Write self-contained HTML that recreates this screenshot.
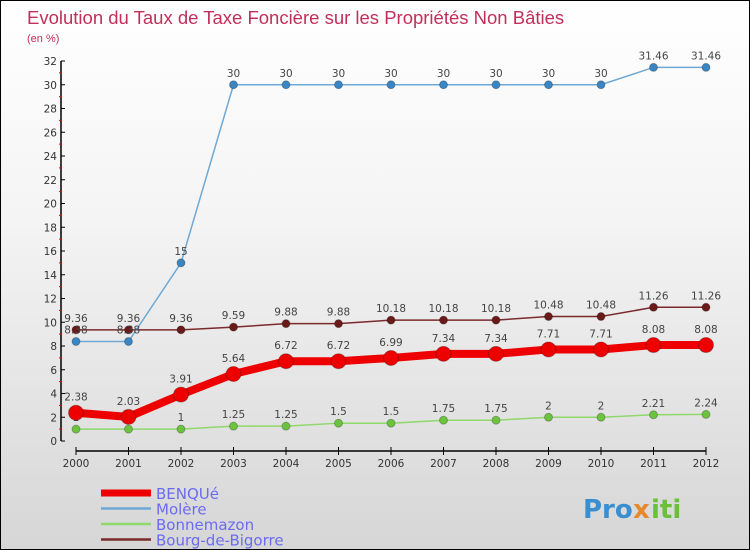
<!DOCTYPE html>
<html><head><meta charset="utf-8"><style>
body{margin:0}
#c{width:748px;height:548px;border:1px solid #000;background:linear-gradient(#fff 0%,#f4f4f4 40%,#d6d6d6 100%);position:relative;overflow:hidden;font-family:"DejaVu Sans","Liberation Sans",sans-serif}
</style></head><body>
<div id="c">
<svg id="s" width="748" height="548" style="position:absolute;left:0;top:0">
<text x="26" y="23" font-size="18.5" fill="#c0305a" font-family="Liberation Sans">Evolution du Taux de Taxe Foncière sur les Propriétés Non Bâties</text>
<text x="26" y="41" font-size="11" fill="#c0305a" font-family="Liberation Sans">(en %)</text>
<g id="ax"></g><g id="ser"></g><g id="leg"></g>
<g font-family="DejaVu Sans" font-weight="bold" font-size="26">
<text x="582" y="517" fill="#3a8fd0">Pro</text><text x="632" y="517" fill="#e8882a">x</text><text x="650" y="517" fill="#6cbf3a">iti</text></g>
</svg></div>
<script>
const years=[2000,2001,2002,2003,2004,2005,2006,2007,2008,2009,2010,2011,2012];
const benoque=[2.38,2.03,3.91,5.64,6.72,6.72,6.99,7.34,7.34,7.71,7.71,8.08,8.08];
const molere=[8.38,8.38,15,30,30,30,30,30,30,30,30,31.46,31.46];
const bonnemazon=[1,1,1,1.25,1.25,1.5,1.5,1.75,1.75,2,2,2.21,2.24];
const bourg=[9.36,9.36,9.36,9.59,9.88,9.88,10.18,10.18,10.18,10.48,10.48,11.26,11.26];
const yTicks=[0,2,4,6,8,10,12,14,16,18,20,22,24,26,28,30,32];
const NS="http://www.w3.org/2000/svg";
const X=i=>75+i*52.5, Y=v=>440-v*11.875;
function mk(p,t,a){const e=document.createElementNS(NS,t);for(const k in a)e.setAttribute(k,a[k]);p.appendChild(e);return e;}
const ax=document.getElementById('ax');
let l=mk(ax,'line',{x1:60,y1:Y(32),x2:60,y2:Y(0),stroke:'#000','stroke-width':1.5});


yTicks.forEach(v=>{
 mk(ax,'line',{x1:60,y1:Y(v),x2:64,y2:Y(v),stroke:'#000'});
 if(v<32)mk(ax,'line',{x1:58,y1:Y(v+1),x2:61,y2:Y(v+1),stroke:'#e00'});
 const t=mk(ax,'text',{x:56,y:Y(v)+4,'font-size':10.5,fill:'#333','text-anchor':'end'});t.textContent=v;
 
 
});
l=mk(ax,'line',{x1:75,y1:450,x2:705,y2:450,stroke:'#000','stroke-width':1.5});


years.forEach((y,i)=>{
 mk(ax,'line',{x1:X(i),y1:446,x2:X(i),y2:454,stroke:'#000'});
 const t=mk(ax,'text',{x:X(i),y:466,'font-size':10.5,fill:'#333','text-anchor':'middle'});t.textContent=y;
 
 
});
const series=[
 {d:bourg,c:'#7a2a2a',f:'#6b1a1a',w:1.5,r:4,n:'bourg-de-bigorre',lab:'Bourg-de-Bigorre'},
 {d:molere,c:'#6fa8d4',f:'#3a86c4',w:1.5,r:4,n:'molere',lab:'Molère'},
 {d:bonnemazon,c:'#8fd86a',f:'#6cc33e',w:1.5,r:4,n:'bonnemazon',lab:'Bonnemazon'},
 {d:benoque,c:'#ee0000',f:'#ee0000',w:8,r:7.5,n:'benoque',lab:'BENQUé'}];
const ser=document.getElementById('ser');
series.forEach(s=>{
 const g=mk(ser,'g',{});
 
 
 mk(g,'polyline',{points:s.d.map((v,i)=>X(i)+','+Y(v)).join(' '),fill:'none',stroke:s.c,'stroke-width':s.w});
 s.d.forEach((v,i)=>{
  const c=mk(g,'circle',{cx:X(i),cy:Y(v),r:s.r,fill:s.f,stroke:'rgba(0,0,0,0.25)'});
  
  
  const t=mk(g,'text',{x:X(i),y:Y(v)-(s.w>2?12:8),'font-size':10.5,fill:'#444','text-anchor':'middle'});t.textContent=v;
  
  
 });
});
const leg=document.getElementById('leg');
[series[3],series[1],series[2],series[0]].forEach((s,k)=>{
 const y=492+k*15.5;
 const g=mk(leg,'g',{});
 
 
 mk(g,'line',{x1:100,y1:y,x2:150,y2:y,stroke:s.c,'stroke-width':s.w>2?7:2.5});
 const t=mk(g,'text',{x:155,y:y+6,'font-size':15,fill:'#6b6bf0'});t.textContent=s.lab;
});
</script>
</body></html>
